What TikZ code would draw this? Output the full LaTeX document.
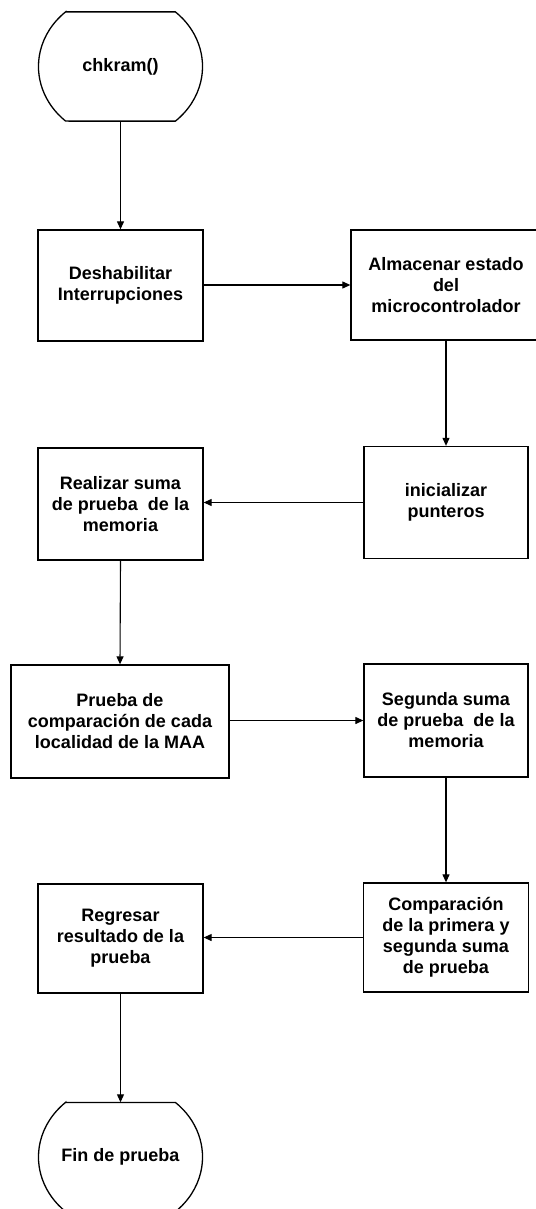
\documentclass[tikz,border=0pt]{standalone}
\usepackage{fontspec}
\setmainfont{Liberation Sans}
\usetikzlibrary{arrows.meta}
\newcommand\termoutline[1]{%
  \draw[termline] ([shift={(-54.9,-54.6)}]#1.center) -- ([shift={(54.9,-54.6)}]#1.center)
    arc[start angle=-48, end angle=48, x radius=82, y radius=73.5]
    -- ([shift={(-54.9,54.6)}]#1.center)
    arc[start angle=132, end angle=228, x radius=82, y radius=73.5] -- cycle;}
\begin{document}
\begin{tikzpicture}[x=1pt,y=-1pt,
  txt/.style={font=\bfseries\fontsize{18}{21}\selectfont, align=center, inner sep=0pt},
  procbox/.style={txt, draw, line width=1.3pt, minimum width=165pt, minimum height=110pt},
  term/.style={txt, minimum width=164pt, minimum height=109pt},
  termline/.style={line width=1.3pt},
  flow/.style={line width=1.1pt, -{Triangle[length=8pt,width=7pt]}}
]
\useasboundingbox (0,0) rectangle (535,1209);
\node[term] (start) at (120.5,66.5) {chkram()};
\termoutline{start}
\node[procbox, minimum height=111pt] (n1) at (120.5,285.5) {Deshabilitar\\Interrupciones};
\node[procbox, minimum width=190pt] (n2) at (446,285) {Almacenar estado\\del\\microcontrolador};
\node[procbox, minimum width=164pt, minimum height=112pt] (n3) at (446,502.5) {inicializar\\punteros};
\node[procbox, minimum height=112pt] (n4) at (120.5,504) {Realizar suma\\de prueba\ \ de la\\memoria};
\node[procbox, minimum width=218pt, minimum height=113pt] (n5) at (120,721.5) {Prueba de\\comparación de cada\\localidad de la MAA};
\node[procbox, minimum width=164pt, minimum height=113pt] (n6) at (446,720.5) {Segunda suma\\de prueba\ \ de la\\memoria};
\node[procbox, minimum height=109pt] (n7) at (446,937.5) {Comparación\\de la primera y\\segunda suma\\de prueba};
\node[procbox, minimum height=109pt] (n8) at (120.5,938.5) {Regresar\\resultado de la\\prueba};
\node[term] (end) at (120.5,1157) {Fin de prueba};
\termoutline{end}

\draw[flow] (start.south) -- (n1.north);
\draw[flow] (n1.east |- n2.west) -- (n2.west);
\draw[flow] (n2.south) -- (n3.north);
\draw[flow] (n3.west) -- (n4.east |- n3.west);
\draw[flow] (n4.south) -- (n5.north);
\draw[flow] (n5.east |- n6.west) -- (n6.west);
\draw[flow] (n6.south) -- (n7.north);
\draw[flow] (n7.west) -- (n8.east |- n7.west);
\draw[flow] (n8.south) -- (end.north);
\end{tikzpicture}
\end{document}
